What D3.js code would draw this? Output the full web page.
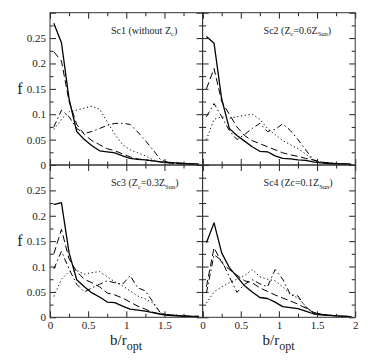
<!DOCTYPE html>
<html>
<head>
<meta charset="utf-8">
<script src="https://cdn.jsdelivr.net/npm/d3@7"></script>
<style>
  body { margin: 0; background: #fff; }
  svg { display: block; font-family: "Liberation Serif", "DejaVu Serif", serif; }
</style>
</head>
<body>
<svg id="svg" width="374" height="362"></svg>
<script>
// bin centres along b/r_opt
let binCenters = [0.05, 0.15, 0.25, 0.35, 0.45, 0.55, 0.65, 0.75, 0.85, 0.95,
                  1.05, 1.15, 1.25, 1.35, 1.45, 1.55, 1.65, 1.75, 1.85, 1.95];

// Sc1 (without Zc)
let sc1Solid   = [0.279, 0.241, 0.130, 0.066, 0.050, 0.038, 0.028, 0.026, 0.024, 0.018, 0.013, 0.011, 0.010, 0.008, 0.006, 0.005, 0.004, 0.003, 0.002, 0.002];
let sc1Dashed  = [0.223, 0.205, 0.125, 0.080, 0.060, 0.048, 0.040, 0.032, 0.028, 0.022, 0.016, 0.012, 0.010, 0.008, 0.006, 0.004, 0.003, 0.002, 0.002, 0.001];
let sc1Dotted  = [0.070, 0.090, 0.105, 0.108, 0.112, 0.116, 0.110, 0.085, 0.060, 0.040, 0.030, 0.024, 0.018, 0.010, 0.006, 0.004, 0.003, 0.002, 0.001, 0.001];
let sc1DashDot = [0.075, 0.108, 0.095, 0.072, 0.062, 0.066, 0.072, 0.078, 0.082, 0.082, 0.080, 0.065, 0.048, 0.030, 0.010, 0.005, 0.004, 0.003, 0.002, 0.002];

// Sc2 (Zc = 0.6 Zsun)
let sc2Solid   = [0.253, 0.240, 0.130, 0.072, 0.058, 0.047, 0.036, 0.027, 0.026, 0.018, 0.013, 0.012, 0.010, 0.009, 0.006, 0.004, 0.003, 0.002, 0.002, 0.001];
let sc2Dashed  = [0.150, 0.190, 0.125, 0.100, 0.075, 0.058, 0.048, 0.042, 0.036, 0.030, 0.024, 0.020, 0.017, 0.013, 0.010, 0.006, 0.004, 0.003, 0.002, 0.002];
let sc2Dotted  = [0.050, 0.090, 0.095, 0.092, 0.095, 0.098, 0.100, 0.090, 0.072, 0.060, 0.048, 0.040, 0.032, 0.022, 0.010, 0.006, 0.004, 0.003, 0.002, 0.001];
let sc2DashDot = [0.095, 0.121, 0.095, 0.068, 0.050, 0.060, 0.072, 0.082, 0.066, 0.070, 0.081, 0.068, 0.050, 0.030, 0.010, 0.005, 0.004, 0.003, 0.002, 0.002];

// Sc3 (Zc = 0.3 Zsun)
let sc3Solid   = [0.222, 0.226, 0.127, 0.074, 0.060, 0.048, 0.040, 0.030, 0.029, 0.022, 0.016, 0.014, 0.012, 0.009, 0.006, 0.004, 0.003, 0.002, 0.002, 0.001];
let sc3Dashed  = [0.125, 0.173, 0.115, 0.090, 0.075, 0.068, 0.060, 0.048, 0.044, 0.038, 0.030, 0.022, 0.016, 0.010, 0.006, 0.005, 0.004, 0.003, 0.002, 0.002];
let sc3Dotted  = [0.041, 0.075, 0.090, 0.092, 0.085, 0.088, 0.090, 0.080, 0.070, 0.062, 0.052, 0.042, 0.036, 0.028, 0.008, 0.005, 0.004, 0.003, 0.002, 0.001];
let sc3DashDot = [0.095, 0.130, 0.095, 0.065, 0.050, 0.058, 0.065, 0.072, 0.068, 0.065, 0.082, 0.058, 0.052, 0.030, 0.008, 0.005, 0.004, 0.003, 0.002, 0.002];

// Sc4 (Zc = 0.1 Zsun)
let sc4Solid   = [0.147, 0.186, 0.127, 0.098, 0.080, 0.062, 0.050, 0.039, 0.037, 0.030, 0.021, 0.019, 0.017, 0.012, 0.007, 0.005, 0.004, 0.003, 0.002, 0.001];
let sc4Dashed  = [0.060, 0.137, 0.108, 0.094, 0.083, 0.072, 0.068, 0.058, 0.051, 0.044, 0.038, 0.032, 0.026, 0.018, 0.010, 0.006, 0.004, 0.003, 0.002, 0.002];
let sc4Dotted  = [0.028, 0.050, 0.060, 0.068, 0.075, 0.082, 0.094, 0.080, 0.075, 0.072, 0.060, 0.045, 0.038, 0.022, 0.008, 0.005, 0.004, 0.003, 0.002, 0.001];
let sc4DashDot = [0.048, 0.123, 0.112, 0.080, 0.049, 0.065, 0.074, 0.066, 0.060, 0.094, 0.075, 0.045, 0.042, 0.020, 0.010, 0.006, 0.004, 0.003, 0.002, 0.002];

let xMajor = [0, 0.5, 1, 1.5, 2];
let xMinor = [0.25, 0.75, 1.25, 1.75];
let yMajor = [0, 0.05, 0.1, 0.15, 0.2, 0.25, 0.3];
let yMinor = [0.025, 0.075, 0.125, 0.175, 0.225, 0.275];

let styles = [
  { dash: null,          width: 1.3 },
  { dash: "7,3.5",       width: 1.0 },
  { dash: "1.2,2.6",     width: 1.0 },
  { dash: "6,3,1.5,3",   width: 1.0 }
];

let panels = [
  { col: 0, row: 0, series: [sc1Solid, sc1Dashed, sc1Dotted, sc1DashDot],
    label: [["Sc1 (without Z", ""], ["c", "sub"], [")", ""]] },
  { col: 1, row: 0, series: [sc2Solid, sc2Dashed, sc2Dotted, sc2DashDot],
    label: [["Sc2 (Z", ""], ["c", "sub"], ["=0.6Z", ""], ["Sun", "sub"], [")", ""]] },
  { col: 0, row: 1, series: [sc3Solid, sc3Dashed, sc3Dotted, sc3DashDot],
    label: [["Sc3 (Z", ""], ["c", "sub"], ["=0.3Z", ""], ["Sun", "sub"], [")", ""]] },
  { col: 1, row: 1, series: [sc4Solid, sc4Dashed, sc4Dotted, sc4DashDot],
    label: [["Sc4 (Zc=0.1Z", ""], ["Sun", "sub"], [")", ""]] }
];

let plotLeft = 50, plotTop = 12.7, panelW = 152.6, panelH = 152.3;
let svg = d3.select("#svg");

panels.forEach((p) => {
  let x0 = plotLeft + p.col * panelW;
  let y0 = plotTop + p.row * panelH;
  let x = d3.scaleLinear().domain([0, 2]).range([x0, x0 + panelW]);
  let y = d3.scaleLinear().domain([0, 0.3]).range([y0 + panelH, y0]);
  let g = svg.append("g");

  let line = d3.line()
    .x((d, i) => x(binCenters[i]))
    .y((d) => y(d));

  // clip to the frame
  let clipId = "clip" + p.col + p.row;
  svg.append("clipPath").attr("id", clipId)
    .append("rect")
    .attr("x", x0).attr("y", y0).attr("width", panelW).attr("height", panelH);

  p.series.forEach((s, i) => {
    g.append("path")
      .datum(s)
      .attr("clip-path", "url(#" + clipId + ")")
      .attr("fill", "none")
      .attr("stroke", "#000")
      .attr("stroke-width", styles[i].width)
      .attr("stroke-dasharray", styles[i].dash)
      .attr("stroke-linejoin", "round")
      .attr("d", line);
  });

  // ticks on all four sides, pointing inward
  const addAxis = (axis, transform) => {
    let a = g.append("g").attr("transform", transform).call(axis);
    a.select(".domain").remove();
    a.selectAll("line").attr("stroke", "#222").attr("stroke-width", 1);
    a.selectAll("text").attr("fill", "#222").attr("font-size", 11)
      .attr("font-family", "Liberation Serif, DejaVu Serif, serif");
    return a;
  };

  let fmt = (d) => d3.format("~g")(d);
  let xLabels = p.row == 1 ? (d) => (p.col == 0 && d == 2 ? "" : fmt(d)) : () => "";
  let yLabels = p.col == 0 ? (d) => (d == 0.3 ? "" : fmt(d)) : () => "";

  addAxis(d3.axisBottom(x).tickValues(xMajor).tickSize(-6).tickPadding(4).tickFormat(xLabels),
    "translate(0," + (y0 + panelH) + ")");
  addAxis(d3.axisBottom(x).tickValues(xMinor).tickSize(-3.5).tickFormat(""),
    "translate(0," + (y0 + panelH) + ")");
  addAxis(d3.axisTop(x).tickValues(xMajor).tickSize(-6).tickFormat(""),
    "translate(0," + y0 + ")");
  addAxis(d3.axisTop(x).tickValues(xMinor).tickSize(-3.5).tickFormat(""),
    "translate(0," + y0 + ")");
  addAxis(d3.axisLeft(y).tickValues(yMajor).tickSize(-6).tickPadding(4).tickFormat(yLabels),
    "translate(" + x0 + ",0)");
  addAxis(d3.axisLeft(y).tickValues(yMinor).tickSize(-3.5).tickFormat(""),
    "translate(" + x0 + ",0)");
  addAxis(d3.axisRight(y).tickValues(yMajor).tickSize(-6).tickFormat(""),
    "translate(" + (x0 + panelW) + ",0)");
  addAxis(d3.axisRight(y).tickValues(yMinor).tickSize(-3.5).tickFormat(""),
    "translate(" + (x0 + panelW) + ",0)");

  g.append("rect")
    .attr("x", x0).attr("y", y0).attr("width", panelW).attr("height", panelH)
    .attr("fill", "none").attr("stroke", "#333").attr("stroke-width", 1);

  // panel caption
  let t = g.append("text")
    .attr("x", x0 + 61).attr("y", y0 + 21)
    .attr("font-size", 10).attr("fill", "#222");
  p.label.forEach((part) => {
    let ts = t.append("tspan").text(part[0]);
    if (part[1] == "sub") {
      ts.attr("font-size", 6.5).attr("dy", 2.5);
    } else {
      ts.attr("dy", t.selectAll("tspan").size() > 1 ? -2.5 : 0);
    }
  });

  // axis titles
  if (p.col == 0) {
    g.append("text")
      .attr("x", 20).attr("y", y0 + panelH / 2 + 5)
      .attr("text-anchor", "middle")
      .attr("font-size", 16).attr("fill", "#222")
      .text("f");
  }
  if (p.row == 1) {
    let xt = g.append("text")
      .attr("x", x0 + 60).attr("y", y0 + panelH + 28)
      .attr("font-size", 15).attr("fill", "#222");
    xt.append("tspan").text("b/r");
    xt.append("tspan").text("opt").attr("font-size", 12).attr("dy", 5);
  }
});
</script>
</body>
</html>
